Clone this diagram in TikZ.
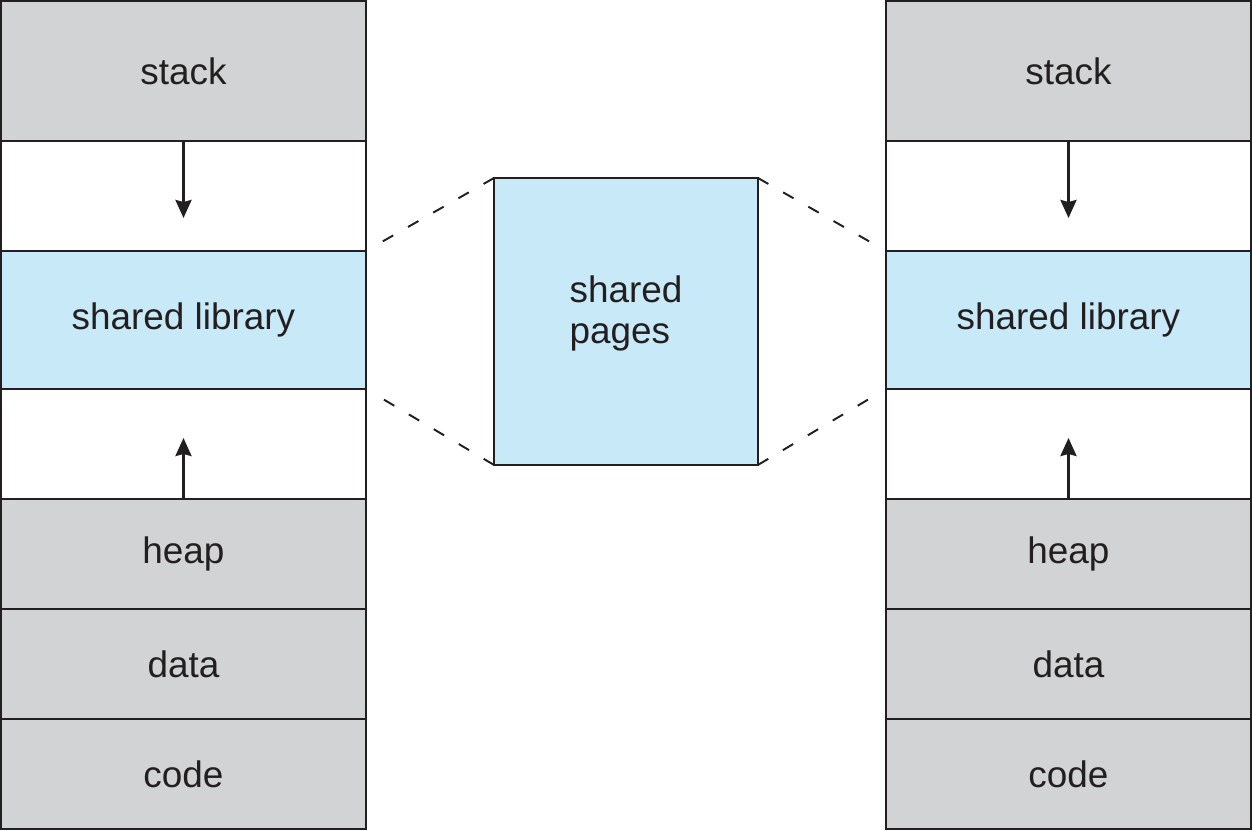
\documentclass[tikz,border=0pt]{standalone}
\usepackage{fontspec}
\setmainfont{Liberation Sans}
\usetikzlibrary{arrows.meta,positioning}
\definecolor{segGray}{RGB}{209,211,212}
\definecolor{segBlue}{RGB}{199,233,248}
\definecolor{lineDark}{RGB}{35,31,32}
\begin{document}
\begin{tikzpicture}[x=0.02cm,y=-0.02cm,>={Stealth[length=0.36cm,width=0.32cm,inset=0.04cm]},node distance=0pt,
                    seg/.style={rectangle,draw=lineDark,text=lineDark,line width=1.1pt,inner sep=0pt,outer sep=0pt,
                                minimum width=7.3cm,font=\fontsize{21}{25}\selectfont},
                    gray seg/.style={seg,fill=segGray,minimum height=2.2cm},
                    free seg/.style={seg,fill=white,minimum height=2.2cm},
                    lib seg/.style={seg,fill=segBlue,minimum height=2.76cm},
                    grow arrow/.style={->,draw=lineDark,line width=1.5pt},
                    link/.style={draw=lineDark,line width=1.1pt,dash pattern=on 0.24cm off 0.34cm,shorten >=0.28cm}]
  \useasboundingbox (0,0) rectangle (1252,831);

  % left process
  \node[gray seg,minimum height=2.8cm,anchor=north west] (stackL) at (1,1) {stack};
  \node[free seg] (upperL) [below=of stackL] {};
  \node[lib seg] (libL) [below=of upperL] {shared library};
  \node[free seg] (lowerL) [below=of libL] {};
  \node[gray seg] (heapL) [below=of lowerL] {heap};
  \node[gray seg] (dataL) [below=of heapL] {data};
  \node[gray seg] (codeL) [below=of dataL] {code};

  % right process
  \node[gray seg,minimum height=2.8cm,anchor=north west] (stackR) at (886,1) {stack};
  \node[free seg] (upperR) [below=of stackR] {};
  \node[lib seg] (libR) [below=of upperR] {shared library};
  \node[free seg] (lowerR) [below=of libR] {};
  \node[gray seg] (heapR) [below=of lowerR] {heap};
  \node[gray seg] (dataR) [below=of heapR] {data};
  \node[gray seg] (codeR) [below=of dataR] {code};

  % physical memory
  \node[seg,fill=segBlue,minimum width=5.28cm,minimum height=5.74cm,anchor=north west]
       (pages) at (494,178) {\raisebox{0.14cm}[\height][\depth]{\begin{tabular}{@{}l@{}}shared\\[-0.06cm]pages\end{tabular}}};

  \coordinate (downL) at (183.5,218);
  \coordinate (upL) at (183.5,438);
  \coordinate (downR) at (1068.5,218);
  \coordinate (upR) at (1068.5,438);
  \draw[grow arrow] (stackL.south) -- (downL);
  \draw[grow arrow] (heapL.north) -- (upL);
  \draw[grow arrow] (stackR.south) -- (downR);
  \draw[grow arrow] (heapR.north) -- (upR);

  \draw[link] (pages.north west) -- (libL.north east);
  \draw[link] (pages.south west) -- (libL.south east);
  \draw[link] (pages.north east) -- (libR.north west);
  \draw[link] (pages.south east) -- (libR.south west);
\end{tikzpicture}
\end{document}
